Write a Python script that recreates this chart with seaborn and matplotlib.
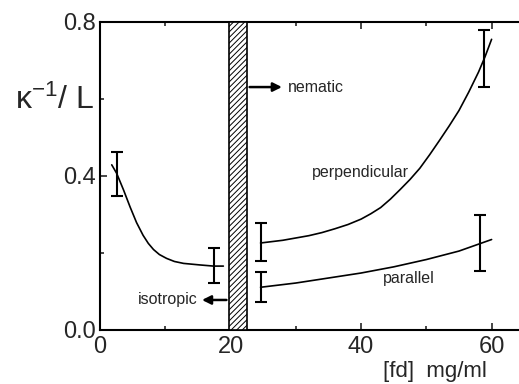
import matplotlib
matplotlib.use("Agg")
import matplotlib.pyplot as plt
import matplotlib.ticker as mticker
import pandas as pd
import seaborn as sns

# curves
iso_x = [1.8, 2.55, 3.6, 4.6, 5.6, 6.6, 7.4, 8.2, 9.1, 10.2, 11.4, 12.8, 15.3, 17.4, 18.9]
iso_y = [0.429, 0.407, 0.364, 0.320, 0.279, 0.246, 0.225, 0.209, 0.196, 0.186, 0.178,
         0.173, 0.169, 0.166, 0.166]
perp_x = [24.6, 28, 32, 34, 36, 38, 40, 41.5, 43, 44.5, 46, 47.5, 49, 50.5, 52, 53.5,
          55, 56.5, 58, 59, 60]
perp_y = [0.226, 0.233, 0.245, 0.253, 0.263, 0.274, 0.288, 0.302, 0.318, 0.340, 0.365,
          0.391, 0.420, 0.455, 0.492, 0.530, 0.570, 0.618, 0.670, 0.710, 0.755]
par_x = [24.6, 30, 35, 40, 45, 50, 55, 60]
par_y = [0.111, 0.122, 0.135, 0.148, 0.164, 0.183, 0.205, 0.235]

# error bars
err_x = [2.55, 17.5, 24.6, 58.8, 24.6, 58.2]
err_y = [0.405, 0.167, 0.228, 0.705, 0.112, 0.226]
err_d = [0.058, 0.046, 0.050, 0.073, 0.039, 0.073]

band = (19.8, 22.5)

df = pd.concat([
    pd.DataFrame({"x": iso_x, "y": iso_y, "phase": "isotropic"}),
    pd.DataFrame({"x": perp_x, "y": perp_y, "phase": "perpendicular"}),
    pd.DataFrame({"x": par_x, "y": par_y, "phase": "parallel"}),
])

sns.set_theme(style="ticks")
plt.rcParams["font.family"] = ["Liberation Sans", "DejaVu Sans"]
plt.rcParams["mathtext.fontset"] = "custom"
plt.rcParams["mathtext.rm"] = "Liberation Sans"
plt.rcParams["mathtext.it"] = "Liberation Sans"
plt.rcParams["hatch.linewidth"] = 0.7

fig = plt.figure(figsize=(5.19, 3.84), dpi=100)
ax = fig.add_axes([100 / 519, 54 / 384, 419 / 519, 308 / 384])

sns.lineplot(data=df, x="x", y="y", units="phase", estimator=None, sort=False,
             color="black", linewidth=1.2, ax=ax, legend=False)

ax.errorbar(err_x, err_y, yerr=err_d, fmt="none", ecolor="black",
            elinewidth=1.5, capsize=4, capthick=1.5)

ax.axvspan(band[0], band[1], facecolor="white", edgecolor="black",
           hatch="//////", linewidth=1.2, zorder=3)

ax.annotate("", xy=(28.3, 0.631), xytext=(band[1], 0.631),
            arrowprops=dict(arrowstyle="-|>", color="black", lw=1.8, mutation_scale=13))
ax.text(28.8, 0.631, "nematic", fontsize=11.5, va="center", ha="left")
ax.annotate("", xy=(15.2, 0.078), xytext=(band[0], 0.078),
            arrowprops=dict(arrowstyle="-|>", color="black", lw=1.8, mutation_scale=13))
ax.text(15.0, 0.078, "isotropic", fontsize=11.5, va="center", ha="right")
ax.text(32.4, 0.41, "perpendicular", fontsize=11.5, va="center", ha="left")
ax.text(43.3, 0.135, "parallel", fontsize=11.5, va="center", ha="left")

ax.set_xlim(0, 64.2)
ax.set_ylim(0, 0.8)
ax.xaxis.set_major_locator(mticker.MultipleLocator(20))
ax.xaxis.set_minor_locator(mticker.MultipleLocator(10))
ax.yaxis.set_major_locator(mticker.MultipleLocator(0.4))
ax.yaxis.set_minor_locator(mticker.MultipleLocator(0.2))
ax.yaxis.set_major_formatter(mticker.FormatStrFormatter("%.1f"))
ax.tick_params(which="both", direction="in", top=True, right=False, width=1.2)
ax.tick_params(which="major", length=5, labelsize=17)
ax.tick_params(which="minor", length=3)
ax.tick_params(axis="x", pad=4)
ax.tick_params(axis="y", pad=3)
for s in ["left", "bottom", "top"]:
    ax.spines[s].set_linewidth(1.5)
    ax.spines[s].set_color("black")
ax.spines["right"].set_visible(False)
ax.set_xlabel("")
ax.set_ylabel("")

fig.text(15 / 519, 1 - 100 / 384, r"κ$^{\mathdefault{-1}}$/ L", fontsize=23,
         va="center", ha="left")
fig.text(383 / 519, 1 - 372 / 384, "[fd]  mg/ml", fontsize=16, va="center", ha="left")

fig.savefig("out.png", dpi=100)
